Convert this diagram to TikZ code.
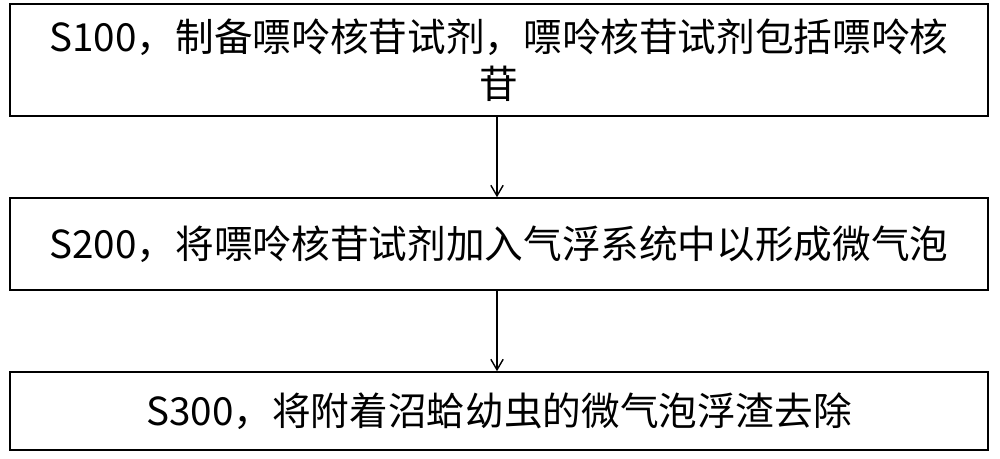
\documentclass[tikz,border=0pt]{standalone}
\usepackage{fontspec}
\setmainfont{Noto Sans CJK SC}
\usetikzlibrary{arrows.meta}
\begin{document}
\begin{tikzpicture}[x=0.02cm,y=-0.02cm,
  stepbox/.style={draw,line width=0.9pt,minimum height=#1*0.02cm,minimum width=978*0.02cm,align=center,font=\fontsize{22}{27}\selectfont,inner sep=0pt},
  conn/.style={-{Straight Barb[length=6pt,width=7pt]},line width=0.8pt}]
\useasboundingbox (0,0) rectangle (1000,458);
\node[stepbox=112] (a) at (499,60) {S100，制备嘌呤核苷试剂，嘌呤核苷试剂包括嘌呤核\\苷};
\node[stepbox=92] (b) at (499,244) {S200，将嘌呤核苷试剂加入气浮系统中以形成微气泡};
\node[stepbox=78] (c) at (499,411) {S300，将附着沼蛤幼虫的微气泡浮渣去除};
\draw[conn] (a.south -| 497,0) -- (b.north -| 497,0);
\draw[conn] (b.south -| 497,0) -- (c.north -| 497,0);
\end{tikzpicture}
\end{document}
